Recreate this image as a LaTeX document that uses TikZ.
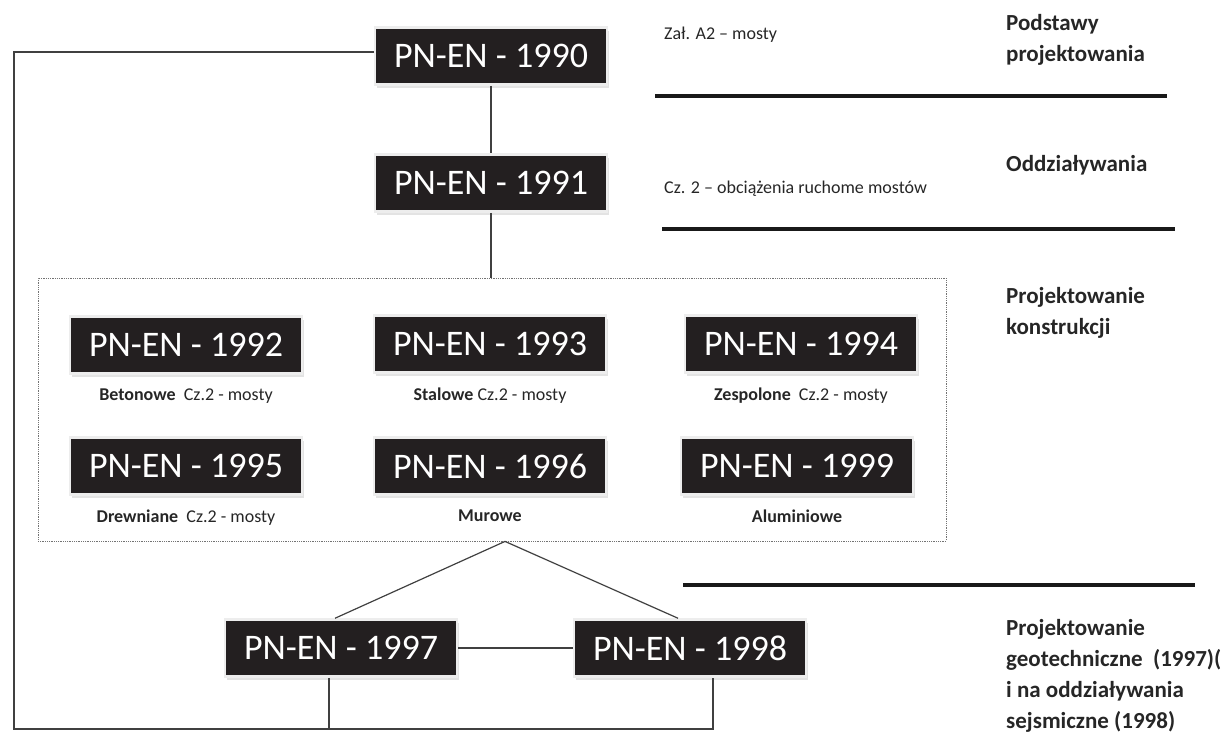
\documentclass[tikz,border=0pt]{standalone}
\usepackage{fontspec}
\setmainfont{Carlito}
\usetikzlibrary{shadows}
\definecolor{boxfill}{RGB}{35,31,32}
\definecolor{tekst}{RGB}{38,38,38}

\begin{document}
\begin{tikzpicture}[x=1pt, y=-1pt,
    pnbox/.style={fill=boxfill, text=white, draw=black!7, line width=2.5pt,
        minimum width=232, minimum height=57, inner sep=0pt,
        font=\fontsize{36}{40}\selectfont,
        drop shadow={shadow xshift=2pt, shadow yshift=-3pt, fill=black!22}},
    ramka/.style={draw=black!55, densely dotted, line width=0.8pt,
        minimum width=908, minimum height=263, inner sep=0pt},
    opis/.style={text=tekst, font=\fontsize{18}{21}\selectfont, inner sep=0pt},
    naglowek/.style={text=tekst, font=\bfseries\fontsize{23}{31}\selectfont,
        align=left, anchor=north west, inner sep=0pt},
    polacz/.style={draw=black!75, line width=1.2pt},
    kreska/.style={draw=black!90, line width=4.5pt}]

    \useasboundingbox (0,0) rectangle (1222,734);

    % Basic parts (top)
    \node[pnbox] (n1990) at (491,56) {PN-EN - 1990};
    \node[pnbox] (n1991) at (491,183) {PN-EN - 1991};

    % Group of design parts
    \node[ramka] (grupa) at (492,409.5) {};

    \foreach \rok/\x/\y/\podpis in {
        1992/186/345/{\textbf{Betonowe}\ \ Cz.2 - mosty},
        1993/490/344/{\textbf{Stalowe} Cz.2 - mosty},
        1994/801/344/{\textbf{Zespolone}\ \ Cz.2 - mosty},
        1995/186/466/{\textbf{Drewniane}\ \ Cz.2 - mosty},
        1996/490/466/{\textbf{Murowe}},
        1999/797/466/{\textbf{Aluminiowe}}
    }
    {
        \node[pnbox] (n\rok) at (\x,\y) {PN-EN - \rok};
        \node[opis, anchor=north] (o\rok) at ([yshift=-14pt]n\rok.south) {\podpis};
    }

    % Geotechnics and seismic
    \node[pnbox] (n1997) at (341,648) {PN-EN - 1997};
    \node[pnbox] (n1998) at (690,648) {PN-EN - 1998};

    % Connectors
    \coordinate (szczyt) at ([xshift=13pt]grupa.south);
    \coordinate (dol) at (14,729);
    \draw[polacz] (n1990) -- (n1991);
    \draw[polacz] (n1991.south) -- (n1991.south |- grupa.north);
    \draw[polacz] ([xshift=-6pt]n1997.north) -- (szczyt) -- ([xshift=-12pt]n1998.north);
    \draw[polacz] (n1997) -- (n1998);
    \draw[polacz] ([yshift=4pt]n1990.west) -| (dol) -| ([xshift=23pt]n1998.south);
    \draw[polacz] ([xshift=-12pt]n1997.south) -- ([xshift=-12pt]n1997.south |- dol);

    % Side notes
    \node[opis, anchor=base west] (zal) at (664,39) {Zał. A2 – mosty};
    \node[opis, anchor=base west] (cz2) at (664,193) {Cz. 2 – obciążenia ruchome mostów};

    % Section rules and headings
    \draw[kreska] (655,96) -- (1167,96);
    \draw[kreska] (662,229) -- (1175,229);
    \draw[kreska] (683,585) -- (1195,585);

    \node[naglowek] (h1) at (1006,14) {Podstawy\\projektowania};
    \node[naglowek] (h2) at (1006,155) {Oddziaływania};
    \node[naglowek] (h3) at (1006,287) {Projektowanie\\konstrukcji};
    \node[naglowek] (h4) at (1006,619) {Projektowanie\\geotechniczne\ \ (1997)(\\i na oddziaływania\\sejsmiczne (1998)};

\end{tikzpicture}
\end{document}
